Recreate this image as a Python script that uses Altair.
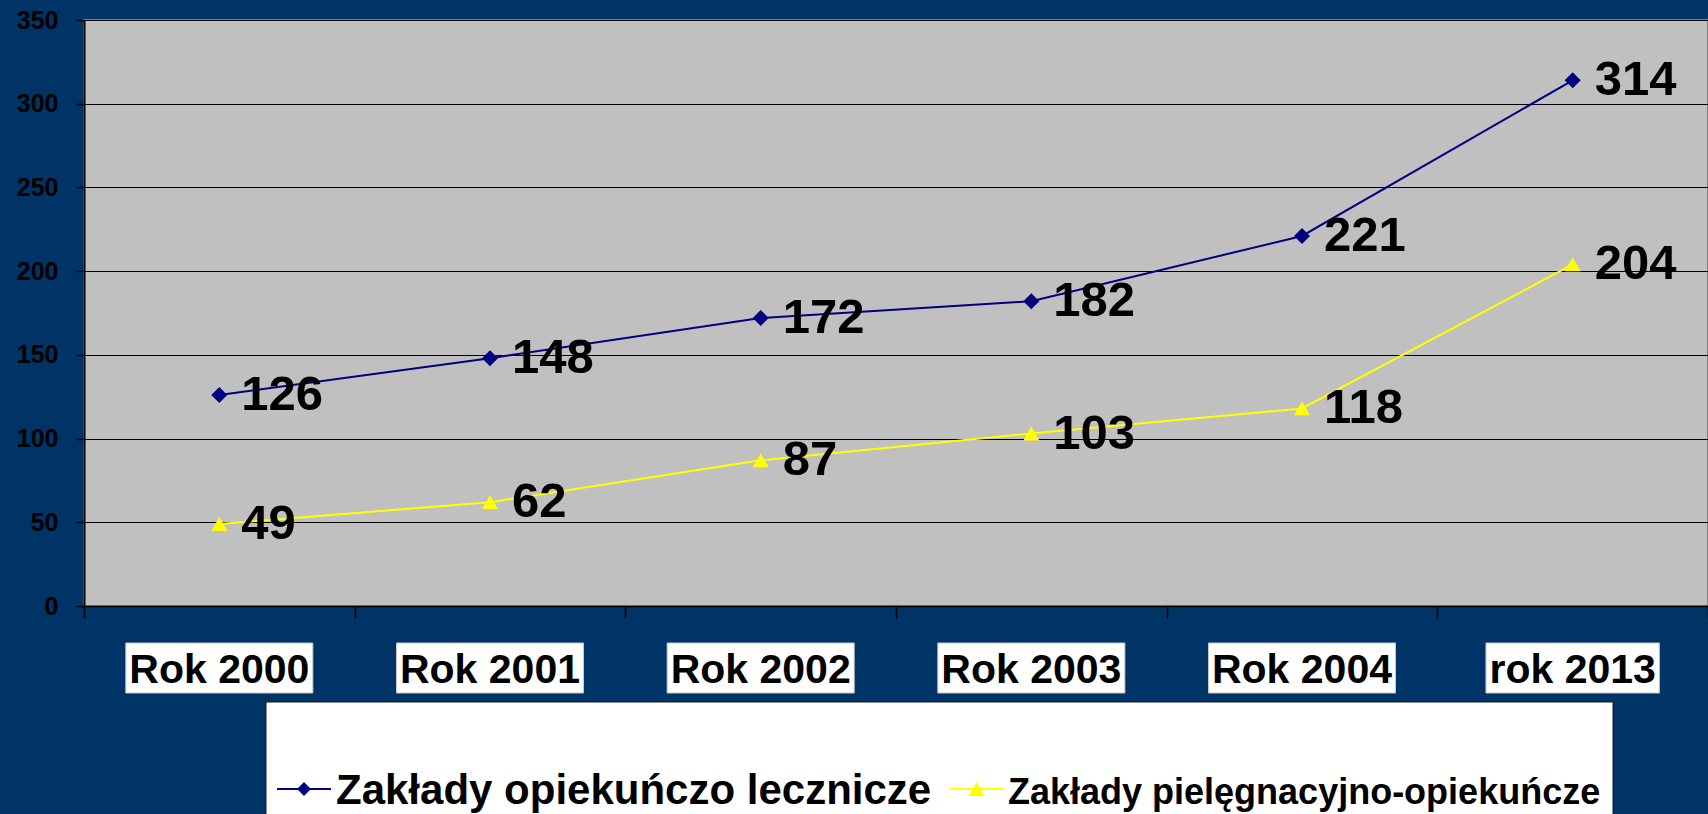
import altair as alt
import pandas as pd

FONT = "Liberation Sans"

years = ["Rok 2000", "Rok 2001", "Rok 2002", "Rok 2003", "Rok 2004", "rok 2013"]
series_names = ["Zakłady opiekuńczo  lecznicze", "Zakłady pielęgnacyjno-opiekuńcze"]
opiekunczo_lecznicze = [126, 148, 172, 182, 221, 314]
pielegnacyjno_opiekuncze = [49, 62, 87, 103, 118, 204]
y_ticks = [0, 50, 100, 150, 200, 250, 300, 350]

series_colors = ["#000080", "#FFFF00"]
series_shapes = ["diamond", "triangle-up"]

rows = []
for name, vals in zip(series_names, [opiekunczo_lecznicze, pielegnacyjno_opiekuncze]):
    for yr, v in zip(years, vals):
        rows.append({"year": yr, "series": name, "value": v})
df = pd.DataFrame(rows)

# approximate Arial-bold advance widths to size the white label boxes
_w = {"R": 0.722, "r": 0.389, "o": 0.611, "k": 0.556, " ": 0.278}
LABEL_FS = 41
box_w = [sum(_w.get(c, 0.556) for c in y) * LABEL_FS + 7 for y in years]
labels_df = pd.DataFrame({"year": years, "w": box_w})

W, H = 1624, 586

xscale = alt.Scale(type="band", paddingInner=0, paddingOuter=0)
yscale = alt.Scale(domain=[0, 350], nice=False)
cscale = alt.Scale(domain=series_names, range=series_colors)
sscale = alt.Scale(domain=series_names, range=series_shapes)

x_axis = alt.Axis(
    labels=False, title=None, grid=False, tickBand="extent",
    domainColor="black", domainWidth=1.5, tickColor="black", tickSize=12, tickWidth=1.5,
)
y_axis = alt.Axis(
    values=y_ticks, title=None, grid=True,
    gridColor="black", gridWidth=1.2,
    domainColor="black", domainWidth=2, tickColor="black", tickSize=8, tickWidth=1.5,
    labelFont=FONT, labelFontSize=25, labelFontWeight="bold", labelColor="black", labelPadding=18,
)

X = alt.X("year:N", sort=years, scale=xscale, axis=x_axis, bandPosition=0.5)
Y = alt.Y("value:Q", scale=yscale, axis=y_axis)

base = alt.Chart(df)

lines = base.mark_line(strokeWidth=2).encode(
    x=X, y=Y,
    color=alt.Color("series:N", scale=cscale, legend=None),
    detail="series:N",
)

points = base.mark_point(filled=True, size=256, opacity=1).encode(
    x=X, y=Y,
    color=alt.Color("series:N", scale=cscale, legend=None),
    shape=alt.Shape("series:N", scale=sscale, legend=None),
)

value_labels = base.mark_text(
    align="left", baseline="middle", dx=22, fontSize=49, fontWeight="bold",
    font=FONT, color="black",
).encode(
    x=X, y=Y,
    text=alt.Text("value:Q"),
)

label_boxes = alt.Chart(labels_df).mark_bar(color="white", stroke="#c8c8c8", strokeWidth=1).encode(
    x=alt.X("year:N", sort=years, scale=xscale, axis=x_axis),
    y=alt.value(623),
    y2=alt.value(673),
    size=alt.Size("w:Q", scale=None, legend=None),
)

label_texts = alt.Chart(labels_df).mark_text(
    align="center", baseline="alphabetic", fontSize=LABEL_FS, fontWeight="bold",
    font=FONT, color="black",
).encode(
    x=X,
    y=alt.value(663),
    text="year:N",
)

legend_box = alt.Chart(alt.Data(values=[{"k": 1}])).mark_rect(
    fill="white", stroke="#1a1a1a", strokeWidth=1
).encode(
    x=alt.value(182), x2=alt.value(1529), y=alt.value(682), y2=alt.value(800)
)

legend_layers = []
leg_specs = [
    (series_names[0], series_colors[0], "diamond", 190, 193, 247, 252, 42),
    (series_names[1], series_colors[1], "triangle-up", 260, 866, 919, 924, 36),
]
for name, col, shp, sz, lx1, lx2, tx, fs in leg_specs:
    d = alt.Data(values=[{"label": name}])
    legend_layers.append(
        alt.Chart(d).mark_rule(color=col, strokeWidth=2).encode(
            x=alt.value(lx1), x2=alt.value(lx2), y=alt.value(769)
        )
    )
    legend_layers.append(
        alt.Chart(d).mark_point(shape=shp, filled=True, size=sz, color=col, opacity=1).encode(
            x=alt.value((lx1 + lx2) / 2), y=alt.value(769)
        )
    )
    legend_layers.append(
        alt.Chart(d).mark_text(
            align="left", baseline="alphabetic", fontSize=fs, fontWeight="bold",
            font=FONT, color="black",
        ).encode(x=alt.value(tx), y=alt.value(784), text="label:N")
    )

chart = alt.layer(
    lines, points, value_labels, label_boxes, label_texts, legend_box, *legend_layers
).properties(
    width=W, height=H, autosize="none",
    padding={"left": 84, "top": 20, "right": 0, "bottom": 208},
).configure(
    background="#003366",
).configure_view(
    fill="#C0C0C0", stroke="#808080", strokeWidth=2,
)

chart.save("out.html", embed_options={"renderer": "svg", "actions": False})
